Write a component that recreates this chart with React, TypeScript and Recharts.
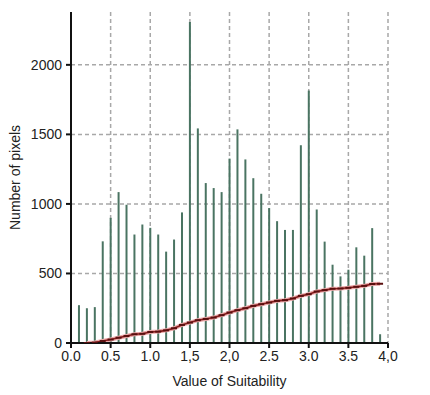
import { ComposedChart, Bar, Line, XAxis, YAxis, CartesianGrid, Label } from "recharts";

const suitability = [
  0.1, 0.2, 0.3, 0.4, 0.5, 0.6, 0.7, 0.8, 0.9, 1.0, 1.1, 1.2, 1.3, 1.4, 1.5, 1.6, 1.7, 1.8, 1.9, 2.0,
  2.1, 2.2, 2.3, 2.4, 2.5, 2.6, 2.7, 2.8, 2.9, 3.0, 3.1, 3.2, 3.3, 3.4, 3.5, 3.6, 3.7, 3.8, 3.9,
];

const pixelCounts = [
  272, 250, 258, 731, 900, 1085, 994, 780, 852, 828, 780, 657, 744, 939, 2308, 1543, 1150, 1114, 1085, 1326,
  1536, 1320, 1185, 1073, 970, 876, 813, 813, 1422, 1815, 960, 729, 563, 479, 527, 688, 628, 826, 63,
];

const trend = [
  null, 0, 3, 14, 25, 38, 50, 63, 66, 79, 82, 91, 106, 130, 147, 164, 173, 183, 200, 219,
  236, 250, 267, 279, 291, 303, 308, 320, 339, 351, 370, 380, 390, 392, 397, 404, 411, 424, 426,
];

const xTicks = [0, 0.5, 1, 1.5, 2, 2.5, 3, 3.5, 4];
const xTickLabels = ["0.0", "0.5", "1.0", "1,5", "2,0", "2.5", "3.0", "3.5", "4,0"];
const yTicks = [0, 500, 1000, 1500, 2000];
const xDomain = [0, 4];
const yDomain = [0, 2380];

const data = suitability.map((x, i) => ({ x, count: pixelCounts[i], trend: trend[i] }));

const font = "'Liberation Sans', Arial, sans-serif";

function TrendDot(props: any) {
  const { cx, cy } = props;
  if (cx == null || cy == null || props.payload?.trend == null) return null;
  return <line x1={cx - 3} x2={cx + 3} y1={cy} y2={cy} stroke="#5a0f0f" strokeWidth={2} />;
}

// grid only at the ticks above zero (no line along the top edge)
const horizontalLines = (p: any) => {
  const o = p?.offset;
  if (!o) return [];
  return yTicks
    .filter((t) => t > 0)
    .map((t) => o.top + o.height * (1 - (t - yDomain[0]) / (yDomain[1] - yDomain[0])));
};

const verticalLines = (p: any) => {
  const o = p?.offset;
  if (!o) return [];
  return xTicks
    .filter((t) => t > 0)
    .map((t) => o.left + (o.width * (t - xDomain[0])) / (xDomain[1] - xDomain[0]));
};

export default function App() {
  return (
    <div style={{ position: "absolute", left: 0, top: 0, background: "#fff" }}>
      <ComposedChart
        width={430}
        height={395}
        data={data}
        margin={{ top: 12, right: 42, bottom: 0, left: 0 }}
        style={{ fontFamily: font }}
      >
        <CartesianGrid
          stroke="#a8a8a8"
          strokeWidth={1.5}
          strokeDasharray="4 3"
          horizontalCoordinatesGenerator={horizontalLines}
          verticalCoordinatesGenerator={verticalLines}
        />
        <XAxis
          dataKey="x"
          type="number"
          domain={xDomain}
          ticks={xTicks}
          tickFormatter={(v: number) => xTickLabels[xTicks.indexOf(v)] ?? String(v)}
          height={52}
          stroke="#111"
          strokeWidth={2}
          tickSize={5}
          tickMargin={3}
          tick={{ fontSize: 14, fill: "#222", fontFamily: font }}
          allowDataOverflow
        >
          <Label value="Value of Suitability" position="center" dy={12} style={{ fontSize: 14, fill: "#222", fontFamily: font }} />
        </XAxis>
        <YAxis
          type="number"
          domain={yDomain}
          ticks={yTicks}
          width={71}
          stroke="#111"
          strokeWidth={2}
          tickSize={5}
          tickMargin={4}
          tick={{ fontSize: 14, fill: "#222", fontFamily: font }}
          allowDataOverflow
        >
          <Label
            value="Number of pixels"
            angle={-90}
            position="center"
            dx={-20}
            style={{ fontSize: 14, fill: "#222", fontFamily: font, textAnchor: "middle" }}
          />
        </YAxis>
        <Bar dataKey="count" fill="#4a7462" barSize={2} isAnimationActive={false} />
        <Line
          dataKey="trend"
          stroke="#e9a8a8"
          strokeWidth={4}
          dot={false}
          activeDot={false}
          connectNulls={false}
          isAnimationActive={false}
        />
        <Line
          dataKey="trend"
          stroke="#8a1c1c"
          strokeWidth={1.6}
          dot={<TrendDot />}
          activeDot={false}
          connectNulls={false}
          isAnimationActive={false}
        />
      </ComposedChart>
    </div>
  );
}
